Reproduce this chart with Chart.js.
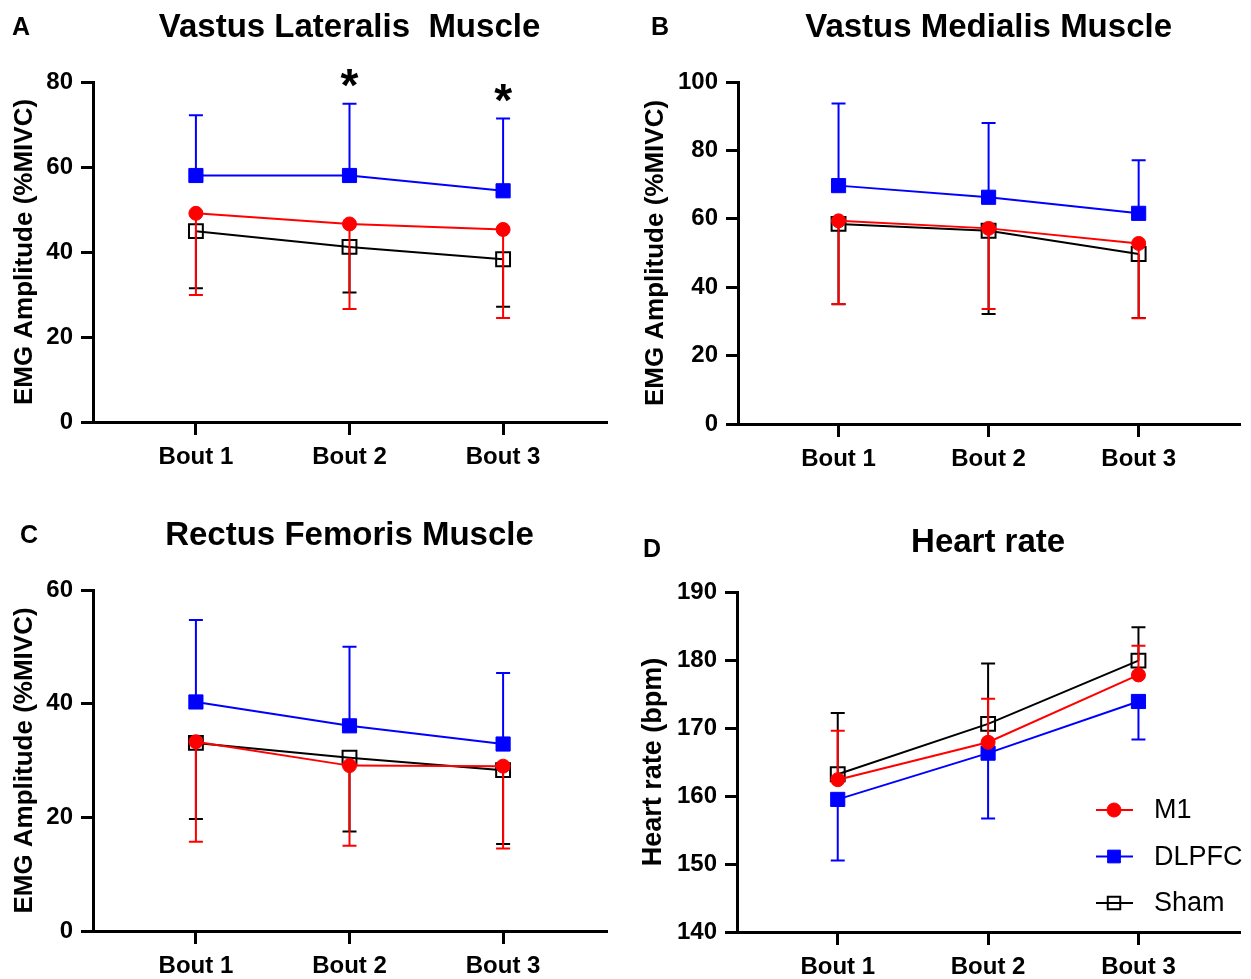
<!DOCTYPE html>
<html>
<head>
<meta charset="utf-8">
<title>EMG amplitude and heart rate</title>
<script src="https://cdn.jsdelivr.net/npm/chart.js"></script>
<style>
  body { margin: 0; background: #fff; }
  #wrap { position: relative; width: 1251px; height: 979px; }
  .panel { position: absolute; }
</style>
</head>
<body>
<div id="wrap">
  <div class="panel" style="left:0;top:0"><canvas id="chartA" width="625" height="489"></canvas></div>
  <div class="panel" style="left:626px;top:0"><canvas id="chartB" width="625" height="489"></canvas></div>
  <div class="panel" style="left:0;top:489px"><canvas id="chartC" width="625" height="490"></canvas></div>
  <div class="panel" style="left:626px;top:489px"><canvas id="chartD" width="625" height="490"></canvas></div>
</div>

<script>
const bouts = ["Bout 1", "Bout 2", "Bout 3"];

// A - vastus lateralis (%MIVC), mean and SD
const vlM1 = [49.1, 46.6, 45.3];
const vlM1Sd = [19.2, 20.0, 20.8];
const vlDlpfc = [58.0, 58.0, 54.4];
const vlDlpfcSd = [14.2, 16.9, 17.0];
const vlSham = [44.9, 41.2, 38.3];
const vlShamSd = [13.4, 10.7, 11.2];
const vlStars = [2, 3];   // bouts marked with *

// B - vastus medialis (%MIVC)
const vmM1 = [59.4, 57.2, 52.8];
const vmM1Sd = [24.3, 23.6, 21.9];
const vmDlpfc = [69.7, 66.3, 61.6];
const vmDlpfcSd = [24.0, 21.7, 15.5];
const vmSham = [58.5, 56.5, 49.7];
const vmShamSd = [23.5, 24.3, 18.7];

// C - rectus femoris (%MIVC)
const rfM1 = [33.3, 29.1, 29.0];
const rfM1Sd = [17.6, 14.1, 14.5];
const rfDlpfc = [40.3, 36.1, 32.9];
const rfDlpfcSd = [14.4, 13.9, 12.5];
const rfSham = [33.1, 30.5, 28.3];
const rfShamSd = [13.4, 13.0, 13.0];

// D - heart rate (bpm)
const hrM1 = [162.4, 167.9, 177.8];
const hrM1Sd = [7.2, 6.4, 4.3];
const hrDlpfc = [159.5, 166.3, 173.9];
const hrDlpfcSd = [9.0, 9.6, 5.6];
const hrSham = [163.2, 170.6, 179.9];
const hrShamSd = [9.0, 8.9, 4.9];

const FONT = "'Liberation Sans', Arial, Helvetica, sans-serif";

const styles = {
    "M1":    { color: "#ff0000", shape: "circle", radius: 7,    fill: "#ff0000", border: 1 },
    "DLPFC": { color: "#0000ff", shape: "rect",   radius: 10,   fill: "#0000ff", border: 1 },
    "Sham":  { color: "#000000", shape: "rect",   radius: 9.8,  fill: "rgba(0,0,0,0)", border: 2 }
};

function makeDataset(name, mean, sd, dir) {
    const s = styles[name];
    return {
        label: name,
        data: mean.map((v, i) => ({ x: i + 1, y: v })),
        sd: sd,
        dir: dir,
        borderColor: s.color,
        backgroundColor: s.fill,
        borderWidth: 2,
        pointStyle: s.shape,
        pointRadius: s.radius,
        pointBackgroundColor: s.fill,
        pointBorderColor: s.color,
        pointBorderWidth: s.border,
        tension: 0,
        clip: false
    };
}

// one-sided SD bars, drawn right after each dataset
const errorBars = {
    id: "errorBars",
    afterDatasetDraw(chart, args) {
        const ds = chart.data.datasets[args.index];
        const yScale = chart.scales.y;
        const ctx = chart.ctx;
        ctx.save();
        ctx.strokeStyle = ds.borderColor;
        ctx.lineWidth = 2;
        args.meta.data.forEach((pt, i) => {
            const end = yScale.getPixelForValue(ds.data[i].y + ds.dir * ds.sd[i]);
            ctx.beginPath();
            ctx.moveTo(pt.x, pt.y);
            ctx.lineTo(pt.x, end);
            ctx.moveTo(pt.x - 7, end);
            ctx.lineTo(pt.x + 7, end);
            ctx.stroke();
        });
        ctx.restore();
    }
};

// panel letter, title and significance stars
const headers = {
    id: "headers",
    afterDraw(chart, args, opts) {
        const ctx = chart.ctx;
        const area = chart.chartArea;
        ctx.save();
        ctx.fillStyle = "#000";
        ctx.textBaseline = "middle";
        ctx.font = "bold 25px " + FONT;
        ctx.textAlign = "left";
        ctx.fillText(opts.letter, opts.letterX, opts.letterY);
        ctx.font = "bold 33px " + FONT;
        ctx.textAlign = "center";
        ctx.fillText(opts.title, (area.left + area.right) / 2, opts.titleY);
        if (opts.stars) {
            const ds = chart.data.datasets[1];
            ctx.font = "bold 46px " + FONT;
            ctx.textBaseline = "alphabetic";
            opts.stars.forEach(b => {
                const i = b - 1;
                const x = chart.scales.x.getPixelForValue(b);
                const y = chart.scales.y.getPixelForValue(ds.data[i].y + ds.sd[i]);
                ctx.fillText("*", x, y - 3);
            });
        }
        ctx.restore();
    }
};

// legend placed inside panel D
const sideLegend = {
    id: "sideLegend",
    afterDraw(chart, args, opts) {
        if (!opts.show) return;
        const ctx = chart.ctx;
        ctx.save();
        chart.data.datasets.forEach((ds, i) => {
            const y = opts.y + i * opts.step;
            const cx = opts.x + 18;
            ctx.strokeStyle = ds.borderColor;
            ctx.lineWidth = 2;
            ctx.beginPath();
            ctx.moveTo(opts.x, y);
            ctx.lineTo(opts.x + 37, y);
            ctx.stroke();
            ctx.fillStyle = ds.pointBackgroundColor;
            ctx.strokeStyle = ds.pointBorderColor;
            ctx.lineWidth = ds.pointBorderWidth;
            ctx.beginPath();
            if (ds.pointStyle === "circle") {
                ctx.arc(cx, y, ds.pointRadius, 0, Math.PI * 2);
            } else {
                const h = ds.pointRadius * Math.SQRT1_2 * 0.9;
                ctx.rect(cx - h, y - h, 2 * h, 2 * h);
            }
            ctx.fill();
            ctx.stroke();
            ctx.fillStyle = "#000";
            ctx.font = "27px " + FONT;
            ctx.textAlign = "left";
            ctx.textBaseline = "middle";
            ctx.fillText(ds.label, opts.x + 58, y + 1);
        });
        ctx.restore();
    }
};

function makeChart(id, cfg) {
    const tickFont = { family: FONT, size: 24, weight: "bold" };
    return new Chart(document.getElementById(id), {
        type: "line",
        data: {
            datasets: [
                makeDataset("M1", cfg.m1, cfg.m1Sd, cfg.dirs[0]),
                makeDataset("DLPFC", cfg.dlpfc, cfg.dlpfcSd, cfg.dirs[1]),
                makeDataset("Sham", cfg.sham, cfg.shamSd, cfg.dirs[2])
            ]
        },
        plugins: [errorBars, headers, sideLegend],
        options: {
            responsive: false,
            animation: false,
            layout: { padding: cfg.pad },
            plugins: {
                legend: { display: false },
                tooltip: { enabled: false },
                headers: cfg.head,
                sideLegend: cfg.legend || { show: false }
            },
            scales: {
                x: {
                    type: "linear",
                    min: 0.33,
                    max: 3.67,
                    afterBuildTicks: s => { s.ticks = bouts.map((b, i) => ({ value: i + 1 })); },
                    afterFit: s => { s.height = cfg.xHeight; },
                    ticks: {
                        callback: v => bouts[Math.round(v) - 1],
                        font: tickFont, color: "#000", padding: 8,
                        maxRotation: 0, autoSkip: false
                    },
                    grid: { drawOnChartArea: false, color: "#000", lineWidth: 3, tickLength: 13 },
                    border: { color: "#000", width: 3 }
                },
                y: {
                    min: cfg.yMin,
                    max: cfg.yMax,
                    afterFit: s => { s.width = cfg.yWidth; },
                    ticks: { stepSize: cfg.yStep, font: tickFont, color: "#000", padding: 8 },
                    grid: { drawOnChartArea: false, color: "#000", lineWidth: 3, tickLength: 12 },
                    border: { color: "#000", width: 3 },
                    title: {
                        display: true,
                        text: cfg.yTitle,
                        color: "#000",
                        font: { family: FONT, size: cfg.yTitleSize, weight: "bold" },
                        padding: { top: cfg.yTitlePad, bottom: 0 }
                    }
                }
            }
        }
    });
}

const emgTitle = "EMG Amplitude (%MIVC)";

makeChart("chartA", {
    m1: vlM1, m1Sd: vlM1Sd, dlpfc: vlDlpfc, dlpfcSd: vlDlpfcSd, sham: vlSham, shamSd: vlShamSd,
    dirs: [-1, 1, -1],
    yMin: 0, yMax: 80, yStep: 20, yTitle: emgTitle, yTitleSize: 26, yTitlePad: 9,
    yWidth: 93, xHeight: 67, pad: { left: 0, top: 82, right: 19, bottom: 0 },
    head: { letter: "A", letterX: 12, letterY: 28, title: "Vastus Lateralis  Muscle", titleY: 28, stars: vlStars }
});

makeChart("chartB", {
    m1: vmM1, m1Sd: vmM1Sd, dlpfc: vmDlpfc, dlpfcSd: vmDlpfcSd, sham: vmSham, shamSd: vmShamSd,
    dirs: [-1, 1, -1],
    yMin: 0, yMax: 100, yStep: 20, yTitle: emgTitle, yTitleSize: 26, yTitlePad: 14,
    yWidth: 112, xHeight: 65, pad: { left: 0, top: 82, right: 1, bottom: 0 },
    head: { letter: "B", letterX: 25, letterY: 28, title: "Vastus Medialis Muscle", titleY: 28 }
});

makeChart("chartC", {
    m1: rfM1, m1Sd: rfM1Sd, dlpfc: rfDlpfc, dlpfcSd: rfDlpfcSd, sham: rfSham, shamSd: rfShamSd,
    dirs: [-1, 1, -1],
    yMin: 0, yMax: 60, yStep: 20, yTitle: emgTitle, yTitleSize: 26, yTitlePad: 9,
    yWidth: 93, xHeight: 48, pad: { left: 0, top: 101, right: 19, bottom: 0 },
    head: { letter: "C", letterX: 20, letterY: 47, title: "Rectus Femoris Muscle", titleY: 47 }
});

makeChart("chartD", {
    m1: hrM1, m1Sd: hrM1Sd, dlpfc: hrDlpfc, dlpfcSd: hrDlpfcSd, sham: hrSham, shamSd: hrShamSd,
    dirs: [1, -1, 1],
    yMin: 140, yMax: 190, yStep: 10, yTitle: "Heart rate (bpm)", yTitleSize: 27, yTitlePad: 11,
    yWidth: 111, xHeight: 47, pad: { left: 0, top: 103, right: 1, bottom: 0 },
    head: { letter: "D", letterX: 17, letterY: 61, title: "Heart rate", titleY: 54 },
    legend: { show: true, x: 470, y: 321, step: 46.5 }
});
</script>
</body>
</html>
